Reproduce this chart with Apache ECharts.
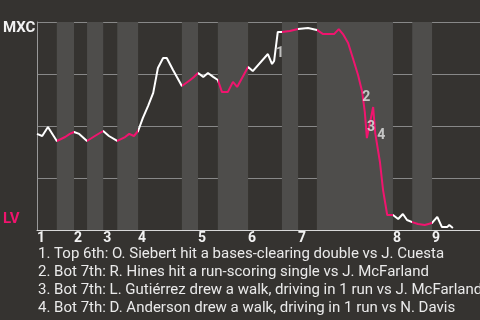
<!DOCTYPE html>
<html><head><meta charset="utf-8">
<script src="https://cdn.jsdelivr.net/npm/echarts@6/dist/echarts.min.js"></script>
<style>html,body{margin:0;padding:0;background:#353330;}#c{width:480px;height:320px;}</style>
</head><body><div id="c"></div>
<script>
// game progress (plate-appearance scale) and MXC win probability (%)
const progress = [0,1.0,2.1,3.8,5.4,6.3,7.1,8.1,9.6,11.1,12.7,13.8,15.4,16.9,17.7,18.6,19.4,20.3,21.3,22.3,23.2,24.2,24.9,26.1,27.8,29.4,30.1,30.9,31.9,32.8,33.8,34.7,35.5,36.6,37.6,38.4,40.5,41.4,44.3,45.1,45.5,46.2,47.0,48.5,50.1,52.0,53.7,54.9,57.0,57.9,58.7,59.7,60.6,61.6,62.4,62.9,63.3,64.5,64.9,65.8,66.4,67.2,68.3,69.3,70.2,71.0,72.0,73.1,74.4,75.8,76.8,77.7,78.7,79.1,79.8];
const winProb = [46.2,45.2,49.5,42.8,44.7,46.2,47.1,46.2,42.8,45.2,47.6,45.2,42.8,44.7,46.2,45.2,47.6,53.8,59.6,65.9,77.9,82.7,82.7,76.9,69.2,72.1,73.6,75.5,73.6,75.5,73.6,72.1,66.3,66.3,71.2,68.8,78.4,76.4,84.6,79.8,81.3,95.2,95.2,95.7,96.6,97.1,96.2,94.2,94.2,96.6,94.2,89.9,82.7,74.5,66.3,56.7,44.2,59.1,46.6,32.7,19.2,7.2,7.2,5.3,7.7,4.8,3.8,2.9,2.4,3.4,6.3,1.4,1.4,2.4,1.0];
const inningStarts = [0,7.1,12.7,19.4,30.9,40.5,50.1,68.3,75.8];
const inningLabels = ['1','2','3','4','5','6','7','8','9'];
const bottomHalves = [[3.8,7.1],[9.6,12.7],[15.4,19.4],[27.8,30.9],[34.7,40.5],[47.0,50.1],[53.7,68.3],[72.0,75.8]];
const awayTeam = 'MXC';
const homeTeam = 'LV';
const eventTexts = [
  '1. Top 6th: O. Siebert hit a bases-clearing double vs J. Cuesta',
  '2. Bot 7th: R. Hines hit a run-scoring single vs J. McFarland',
  '3. Bot 7th: L. Gutiérrez drew a walk, driving in 1 run vs J. McFarland',
  '4. Bot 7th: D. Anderson drew a walk, driving in 1 run vs N. Davis'
];
const eventPoints = [40,54,56,58];
const eventLabelOffsets = [[6,-7],[4,5],[4,-11],[6,2]];

const PINK = '#f0146e', WHITE = '#ffffff', BG = '#353330', BAND = '#4e4d4b';
const lineData = progress.map((x,i)=>[x, winProb[i]]);
const chart = echarts.init(document.getElementById('c'), null, {renderer:'canvas'});
chart.setOption({
  backgroundColor: BG,
  animation: false,
  grid: {left:37, right:0, top:22, bottom:90},
  xAxis: {
    type:'value', min:0, max:85, z:1,
    axisLine:{show:true, lineStyle:{color:'#d8d8d8', width:1}},
    axisTick:{show:false}, splitLine:{show:false},
    axisLabel:{
      customValues: inningStarts,
      formatter: v => { const i = inningStarts.indexOf(v); return i>=0 ? inningLabels[i] : ''; },
      align:'left', color:'#f2f2f2', fontFamily:'Roboto', fontWeight:'bold', fontSize:14, margin:1
    }
  },
  yAxis: {
    type:'value', min:0, max:100, interval:25, z:1,
    axisLine:{show:true, lineStyle:{color:'#999', width:1}},
    axisTick:{show:false}, axisLabel:{show:false},
    splitLine:{show:true, lineStyle:{color:'#888', width:1}}
  },
  visualMap: {
    type:'piecewise', show:false, dimension:0, seriesIndex:1,
    pieces: bottomHalves.map(b=>({gte:b[0], lte:b[1], color:PINK})),
    outOfRange:{color:WHITE}
  },
  series: [
    {type:'line', data:[], z:0, silent:true,
     markArea:{silent:true, itemStyle:{color:BAND},
       data: bottomHalves.map(b=>[{xAxis:b[0]},{xAxis:b[1]}])}},
    {type:'line', data:lineData, z:2, showSymbol:false, symbol:'none',
     lineStyle:{width:2}},
    {type:'scatter', z:3, symbolSize:0,
     data: eventPoints.map((p,i)=>({value:lineData[p], label:{offset:eventLabelOffsets[i]}})),
     label:{show:true, position:'inside', formatter: p => String(p.dataIndex+1),
       color:'#e4e4e4', fontFamily:'Roboto', fontWeight:'bold', fontSize:14}}
  ],
  graphic: [
    {type:'text', left:3, top:21, style:{text:awayTeam, font:'bold 15px Roboto', fill:'#f2f2f2'}},
    {type:'text', left:3, top:212, style:{text:homeTeam, font:'bold 15px Roboto', fill:PINK}},
    {type:'text', left:38, top:245, style:{text:eventTexts.join('\n'), font:'15px Roboto', fill:'#eaeaea', lineHeight:18}}
  ]
});
</script></body></html>
